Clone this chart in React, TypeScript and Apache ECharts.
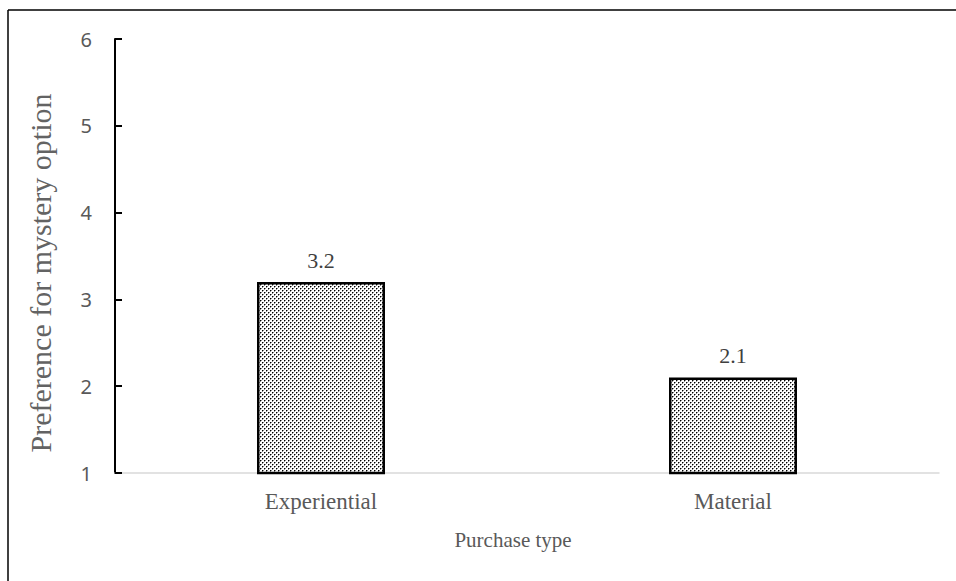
import React, { useEffect, useRef } from "react";
import * as echarts from "echarts";

const categories = ["Experiential", "Material"];
const values = [3.2, 2.1];
const yTicks = [1, 2, 3, 4, 5, 6];

const xTitle = "Purchase type";
const yTitle = "Preference for mystery option";

// Small dotted tile used to fill the bars
function makeDotPattern(): HTMLCanvasElement {
  const c = document.createElement("canvas");
  c.width = 4;
  c.height = 4;
  const ctx = c.getContext("2d")!;
  ctx.fillStyle = "#ffffff";
  ctx.fillRect(0, 0, 4, 4);
  ctx.fillStyle = "#000000";
  ctx.fillRect(0, 0, 1, 1);
  ctx.fillRect(2, 2, 1, 1);
  ctx.fillStyle = "#8a8a8a";
  ctx.fillRect(1, 0, 1, 1);
  ctx.fillRect(0, 1, 1, 1);
  ctx.fillRect(3, 2, 1, 1);
  ctx.fillRect(2, 3, 1, 1);
  return c;
}

export default function App() {
  const ref = useRef<HTMLDivElement>(null);

  useEffect(() => {
    if (!ref.current) return;
    const chart = echarts.init(ref.current, undefined, { renderer: "svg" });
    const pattern = makeDotPattern();
    chart.setOption({
      animation: false,
      backgroundColor: "#ffffff",
      grid: { left: 115, right: 17, top: 39, bottom: 108, containLabel: false },
      graphic: [
        {
          type: "line",
          shape: { x1: 8, y1: 10, x2: 956, y2: 10 },
          style: { stroke: "#000000", lineWidth: 1.5 },
        },
        {
          type: "line",
          shape: { x1: 8, y1: 10, x2: 8, y2: 581 },
          style: { stroke: "#000000", lineWidth: 1.5 },
        },
        {
          type: "text",
          x: 40,
          y: 273,
          rotation: Math.PI / 2,
          style: {
            text: yTitle,
            fontFamily: "Liberation Serif",
            fontSize: 30,
            fill: "#636363",
            align: "center",
            verticalAlign: "middle",
          },
        },
        {
          type: "text",
          x: 513,
          y: 540,
          style: {
            text: xTitle,
            fontFamily: "Liberation Serif",
            fontSize: 21,
            fill: "#595959",
            align: "center",
            verticalAlign: "middle",
          },
        },
      ],
      xAxis: {
        type: "category",
        data: categories,
        axisLine: { lineStyle: { color: "#d9d9d9", width: 1.5 } },
        axisTick: { show: false },
        axisLabel: {
          margin: 17,
          fontFamily: "Liberation Serif",
          fontSize: 23,
          color: "#595959",
        },
      },
      yAxis: {
        type: "value",
        min: yTicks[0],
        max: yTicks[yTicks.length - 1],
        interval: 1,
        axisLine: { show: true, lineStyle: { color: "#000000", width: 2 } },
        axisTick: {
          show: true,
          inside: true,
          length: 7,
          lineStyle: { color: "#000000", width: 2 },
        },
        splitLine: { show: false },
        axisLabel: {
          margin: 23,
          fontFamily: "Noto Sans",
          fontSize: 20,
          color: "#595959",
        },
      },
      series: [
        {
          type: "bar",
          data: values,
          barWidth: 128,
          itemStyle: {
            color: { image: pattern, repeat: "repeat" },
            borderColor: "#000000",
            borderWidth: 2.5,
          },
          label: {
            show: true,
            position: "top",
            distance: 11,
            fontFamily: "Liberation Serif",
            fontSize: 22,
            color: "#404040",
            formatter: (p: any) => p.value.toFixed(1),
          },
        },
      ],
    });
    return () => chart.dispose();
  }, []);

  return (
    <div
      ref={ref}
      style={{ position: "fixed", left: 0, top: 0, width: 956, height: 581 }}
    />
  );
}
